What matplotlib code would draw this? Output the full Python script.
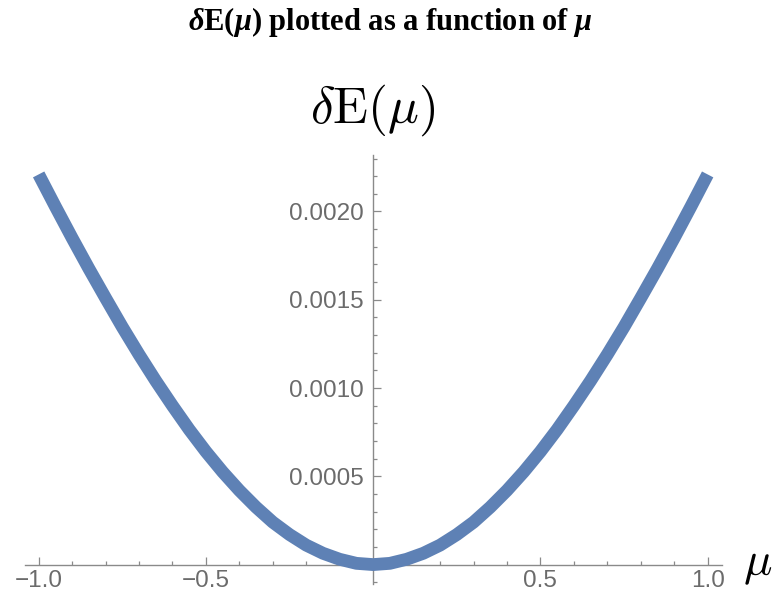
import matplotlib
matplotlib.use("Agg")
import matplotlib.pyplot as plt
from matplotlib import transforms
from matplotlib.ticker import FixedLocator, FixedFormatter

plt.rcParams["mathtext.fontset"] = "custom"
plt.rcParams["mathtext.rm"] = "Liberation Serif:bold"
plt.rcParams["mathtext.bf"] = "Liberation Serif:bold"
plt.rcParams["mathtext.it"] = "Liberation Serif:italic:bold"

# ---- data ----
mu = [-1.00, -0.95, -0.90, -0.85, -0.80, -0.75, -0.70, -0.65, -0.60, -0.55,
      -0.50, -0.45, -0.40, -0.35, -0.30, -0.25, -0.20, -0.15, -0.10, -0.05,
      0.00, 0.05, 0.10, 0.15, 0.20, 0.25, 0.30, 0.35, 0.40, 0.45,
      0.50, 0.55, 0.60, 0.65, 0.70, 0.75, 0.80, 0.85, 0.90, 0.95, 1.00]
dE = [0.002210, 0.002028, 0.001850, 0.001677, 0.001510, 0.001346, 0.001190, 0.001041,
      0.000900, 0.000765, 0.000640, 0.000525, 0.000420, 0.000325, 0.000240, 0.000170,
      0.000110, 0.000064, 0.000030, 0.000007,
      0.000000,
      0.000007, 0.000030, 0.000064, 0.000110, 0.000170, 0.000240, 0.000325, 0.000420,
      0.000525, 0.000640, 0.000765, 0.000900, 0.001041, 0.001190, 0.001346, 0.001510,
      0.001677, 0.001850, 0.002028, 0.002210]

x_major = [-1.0, -0.5, 0.5, 1.0]
x_labels = ["\u22121.0", "\u22120.5", "0.5", "1.0"]
x_minor = [-0.9, -0.8, -0.7, -0.6, -0.4, -0.3, -0.2, -0.1,
           0.1, 0.2, 0.3, 0.4, 0.6, 0.7, 0.8, 0.9]
y_major = [0.0005, 0.0010, 0.0015, 0.0020]
y_labels = ["0.0005", "0.0010", "0.0015", "0.0020"]
y_minor = [-0.0001, 0.0001, 0.0002, 0.0003, 0.0004, 0.0006, 0.0007, 0.0008, 0.0009,
           0.0011, 0.0012, 0.0013, 0.0014, 0.0016, 0.0017, 0.0018, 0.0019,
           0.0021, 0.0022, 0.0023]

title = r"$\delta\mathrm{E}(\mu)$ plotted as a function of $\mu$"
ylab = r"$\delta\mathrm{E}(\mu)$"
xlab = r"$\mu$"

# ---- figure ----
W, H = 774, 601
fig = plt.figure(figsize=(W / 100, H / 100), dpi=100)
left_px, right_px, top_px, bot_px = 24.6, 721.7, 155, 584
ax = fig.add_axes([left_px / W, 1 - bot_px / H, (right_px - left_px) / W, (bot_px - top_px) / H])

ax.plot(mu, dE, color="#5E81B5", lw=9.2, solid_capstyle="butt", solid_joinstyle="round", zorder=3)

ax.set_xlim(-1.042, 1.042)
ax.set_ylim(-0.00011, 0.00232)

axis_col = "#8a8a8a"
for s in ["top", "right"]:
    ax.spines[s].set_visible(False)
ax.spines["left"].set_position(("data", 0))
ax.spines["bottom"].set_position(("data", 0))
for s in ["left", "bottom"]:
    ax.spines[s].set_color(axis_col)
    ax.spines[s].set_linewidth(1.0)

ax.xaxis.set_major_locator(FixedLocator(x_major))
ax.xaxis.set_major_formatter(FixedFormatter(x_labels))
ax.xaxis.set_minor_locator(FixedLocator(x_minor))
ax.yaxis.set_major_locator(FixedLocator(y_major))
ax.yaxis.set_major_formatter(FixedFormatter(y_labels))
ax.yaxis.set_minor_locator(FixedLocator(y_minor))

lab_col = "#6b6b6b"
ax.tick_params(axis="both", which="both", direction="in", color=axis_col, width=0.9,
               labelcolor=lab_col, labelsize=17.5)
ax.tick_params(axis="both", which="major", length=5.5)
ax.tick_params(axis="both", which="minor", length=3.2)
ax.tick_params(axis="x", which="major", pad=4)
ax.tick_params(axis="y", which="major", pad=7)
for lbl in ax.get_xticklabels() + ax.get_yticklabels():
    lbl.set_fontfamily("Liberation Sans")

# title
fig.text(0.5045, 1 - 22 / H, title, ha="center", va="center", fontsize=22,
         fontfamily="Liberation Serif", fontweight="bold", math_fontfamily="custom")

# axis labels
tr = transforms.blended_transform_factory(ax.transData, fig.transFigure)
ax.text(0, 1 - 110 / H, ylab, transform=tr, ha="center", va="center", fontsize=37,
        math_fontfamily="cm", color="black")
tr2 = transforms.blended_transform_factory(fig.transFigure, ax.transData)
ax.text(758 / W, 0, xlab, transform=tr2, ha="center", va="center", fontsize=34,
        math_fontfamily="cm", color="black", clip_on=False)

fig.savefig("out.png", dpi=100)
